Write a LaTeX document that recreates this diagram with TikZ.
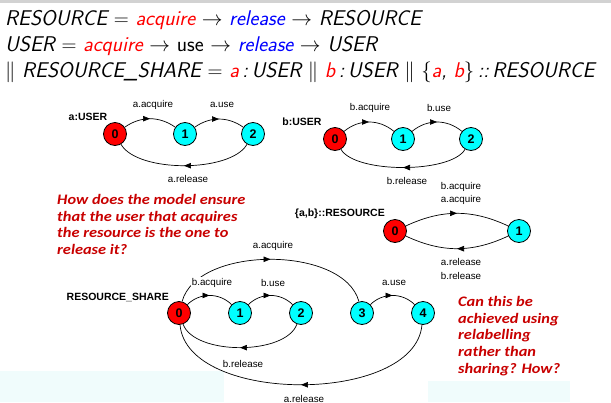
\documentclass[tikz,border=0pt]{standalone}
\usepackage{fontspec}
\usetikzlibrary{arrows.meta,decorations.markings}
\newfontfamily\diagfont{Liberation Sans}
\newfontfamily\notefont[FakeStretch=1.13]{Carlito}
\definecolor{notered}{RGB}{200,0,0}
\definecolor{paleblue}{RGB}{240,252,252}
\definecolor{stred}{RGB}{255,0,0}
\definecolor{stcyan}{RGB}{0,255,255}
\definecolor{hred}{RGB}{255,0,0}
\definecolor{hblue}{RGB}{0,0,255}
\tikzset{
  st/.style={circle,draw=black,line width=0.8pt,minimum size=23pt,inner sep=0pt,
    font=\diagfont\bfseries\fontsize{12.5}{12.5}\selectfont},
  s0/.style={st,fill=stred},
  s1/.style={st,fill=stcyan},
  lbl/.style={font=\diagfont\fontsize{9.8}{10}\selectfont,fill=white,inner sep=1pt},
  lbl2/.style={font=\diagfont\fontsize{9.8}{13.5}\selectfont,align=center,inner sep=1pt},
  ttl/.style={font=\diagfont\bfseries\fontsize{10.5}{11}\selectfont,inner sep=0pt},
  tr/.style={draw=black,line width=0.7pt,postaction={decorate},
    decoration={markings,mark=at position 0.5 with {\arrow{Triangle[length=7pt,width=5.5pt]}}}},
  hdr/.style={anchor=base west,inner sep=0pt,font=\sffamily\slshape\fontsize{21.3}{26}\selectfont},
  note/.style={anchor=north west,inner sep=0pt,align=left,text=notered,
    font=\notefont\bfseries\itshape\fontsize{14.5}{16.8}\selectfont},
}
\begin{document}
\begin{tikzpicture}[x=1pt,y=-1pt]
  \useasboundingbox (0,0) rectangle (611,402);
  \clip (0,0) rectangle (611,402);
  % page decoration
  \fill[gray!35] (0,0) rectangle (611,2.5);
  \fill[paleblue] (0,371) rectangle (224,402);
  \fill[paleblue] (428,381) rectangle (570,402);

  % process definitions
  \node[hdr] (h1) at (5,25) {RESOURCE $=$ \textcolor{hred}{acquire} $\rightarrow$ \textcolor{hblue}{release} $\rightarrow$ RESOURCE};
  \node[hdr] (h2) at (5,51) {USER $=$ \textcolor{hred}{acquire} $\rightarrow$ \textup{use} $\rightarrow$ \textcolor{hblue}{release} $\rightarrow$ USER};
  \node[hdr] (h3) at (5,77) {$\|$ RESOURCE\_SHARE $=$ \textcolor{hred}{a}\,:\,USER $\|$ \textcolor{hred}{b}\,:\,USER $\|$ $\{$\textcolor{hred}{a}, \textcolor{hred}{b}$\}$\,::\,RESOURCE};

  % a:USER
  \node[ttl] (ta) at (88,117) {a:USER};
  \node[s0] (a0) at (115,134) {0};
  \node[s1] (a1) at (185,134) {1};
  \node[s1] (a2) at (253,134) {2};
  \draw[tr] (a0) to[out=35,in=145] (a1);
  \draw[tr] (a1) to[out=35,in=145] (a2);
  \draw[tr] (a2) to[out=-120,in=-60,looseness=0.67] (a0);
  \node[lbl] (la1) at (153,105) {a.acquire};
  \node[lbl] (la2) at (222,105) {a.use};
  \node[lbl] (la3) at (188,179) {a.release};

  % b:USER
  \node[ttl] (tb) at (302,122) {b:USER};
  \node[s0] (b0) at (335,139) {0};
  \node[s1] (b1) at (403,139) {1};
  \node[s1] (b2) at (471,139) {2};
  \draw[tr] (b0) to[out=40,in=140] (b1);
  \draw[tr] (b1) to[out=40,in=140] (b2);
  \draw[tr] (b2) to[out=-120,in=-60,looseness=0.58] (b0);
  \node[lbl] (lb1) at (370,108) {b.acquire};
  \node[lbl] (lb2) at (439,108) {b.use};
  \node[lbl] (lb3) at (407,181) {b.release};

  % {a,b}::RESOURCE
  \node[ttl,anchor=east] (tr) at (385,214) {\{a,b\}::RESOURCE};
  \node[s0] (r0) at (395,231) {0};
  \node[s1] (r1) at (519,231) {1};
  \draw[tr] (r0) to[out=25,in=155] (r1);
  \draw[tr] (r1) to[out=-155,in=-25] (r0);
  \node[lbl2] (lr1) at (461,193.5) {b.acquire\\a.acquire};
  \node[lbl2] (lr2) at (461,269) {a.release\\b.release};

  % RESOURCE_SHARE
  \node[ttl,anchor=east] (ts) at (169,297) {RESOURCE\_SHARE};
  \node[s0] (s0n) at (179,313) {0};
  \node[s1] (s1n) at (240,313) {1};
  \node[s1] (s2n) at (301,313) {2};
  \node[s1] (s3n) at (362,313) {3};
  \node[s1] (s4n) at (423,313) {4};
  \draw[tr] (s0n) to[out=75,in=105,looseness=0.845] (s3n);
  \draw[tr] (s0n) to[out=45,in=135] (s1n);
  \draw[tr] (s1n) to[out=45,in=135] (s2n);
  \draw[tr] (s3n) to[out=45,in=135] (s4n);
  \draw[tr] (s2n) to[out=-110,in=-70,looseness=0.75] (s0n);
  \draw[tr] (s4n) to[out=-95,in=-85,looseness=0.85] (s0n);
  \node[lbl] (ls1) at (273,246) {a.acquire};
  \node[lbl] (ls2) at (212,283) {b.acquire};
  \node[lbl] (ls3) at (273,283) {b.use};
  \node[lbl] (ls4) at (394,283) {a.use};
  \node[lbl] (ls5) at (243,364) {b.release};
  \node[lbl] (ls6) at (304,399) {a.release};

  % questions
  \node[note] (q1) at (57,194) {How does the model ensure\\that the user that acquires\\the resource is the one to\\release it?};
  \node[note] (q2) at (458,296) {Can this be\\achieved using\\relabelling\\rather than\\sharing? How?};
\end{tikzpicture}
\end{document}
